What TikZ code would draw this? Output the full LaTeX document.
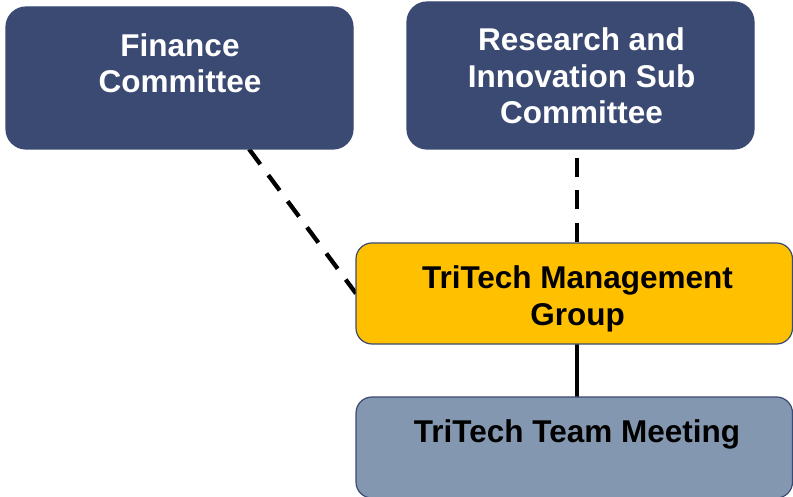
\documentclass[tikz,border=0pt]{standalone}
\usepackage{fontspec}
\setmainfont{Liberation Sans}
\usetikzlibrary{backgrounds}
\definecolor{cnavy}{RGB}{59,74,114}
\definecolor{cgold}{RGB}{255,192,0}
\definecolor{cslate}{RGB}{132,151,176}
\begin{document}
\begin{tikzpicture}[x=1pt,y=-1pt,
  orgbox/.style={draw=cnavy, line width=1.2pt, inner sep=0pt, outer sep=0pt,
    rectangle, rounded corners=#1},
  orgbox/.default=16pt,
  boxtext/.style={anchor=north, inner sep=0pt, align=center,
    font=\fontsize{31.5}{36.5}\selectfont\bfseries},
  link/.style={line width=4.3pt, black, line cap=butt},
  dashlink/.style={link, dash pattern=on 19pt off 13.5pt}]
  \useasboundingbox (0,0) rectangle (793,497);

  % committee boxes
  \node[orgbox=20pt, fill=cnavy, minimum width=347pt, minimum height=142pt]
    (fin) at (179.5,78) {};
  \node[orgbox=20pt, fill=cnavy, minimum width=347pt, minimum height=147pt]
    (ri) at (580.5,75.5) {};
  % management group and team meeting
  \node[orgbox, fill=cgold, minimum width=436.5pt, minimum height=101pt]
    (mg) at (574.25,293.5) {};
  \node[orgbox, fill=cslate, minimum width=436.5pt, minimum height=101pt]
    (tm) at (574.25,447.5) {};

  % labels
  \node[boxtext, text=white] (fin-t) at (180,33) {Finance\\Committee};
  \node[boxtext, text=white] (ri-t) at (581.5,27.5) {Research and\\Innovation Sub\\Committee};
  \node[boxtext, text=black] (mg-t) at (577.5,265.5) {TriTech Management\\Group};
  \node[boxtext, text=black] (tm-t) at (577,419.5) {TriTech Team Meeting};

  % reporting lines
  \coordinate (fin-foot) at (249,149);
  \coordinate (ri-foot) at (577,158);
  \begin{scope}[on background layer]
    \draw[dashlink] (fin-foot) -- (mg.west);
    \draw[dashlink] (ri-foot) -- (ri-foot |- mg.north);
    \draw[link] (ri-foot |- mg.south) -- (ri-foot |- tm.north);
  \end{scope}
\end{tikzpicture}
\end{document}
